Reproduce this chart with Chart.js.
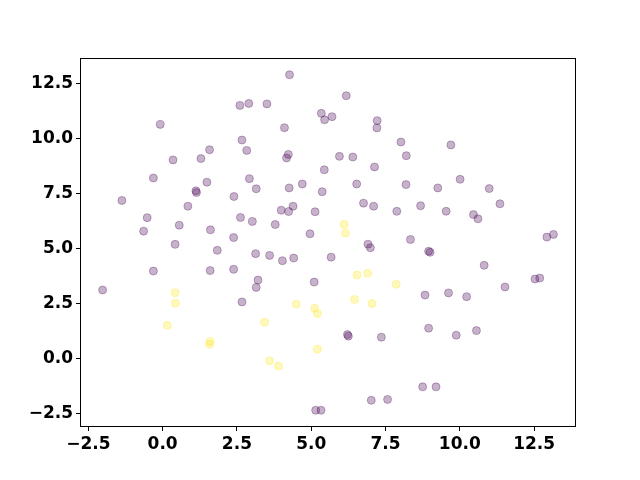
<!DOCTYPE html>
<html>
<head>
<meta charset="utf-8">
<script src="https://cdn.jsdelivr.net/npm/chart.js"></script>
<style>
  html, body { margin: 0; padding: 0; background: #fff; }
  #chart { display: block; }
</style>
</head>
<body>
<canvas id="chart" width="640" height="480"></canvas>
<script>
// cluster 0 (purple) and cluster 1 (yellow)
const class0X = [2.60, 2.90, -0.08, 2.67, 2.83, 1.58, 0.35, 1.29, -0.31, 1.49,
    2.92, 1.12, 1.14, 2.40, -1.37, 0.85, -0.52, 2.62, 0.56, -0.64,
    1.61, 2.39, 3.02, 0.42, 1.84, 4.27, 3.51, 6.18, 5.34, 5.45,
    5.70, 7.22, 7.21, 4.10, 8.02, 8.20, 4.23, 4.17, 5.95, 6.40,
    7.13, 5.44, 3.15, 4.26, 4.70, 6.53, 8.19, 5.37, 4.39, 3.99,
    4.24, 6.76, 7.10, 7.88, 5.13, 3.79, 4.96, 6.91, 6.99, 8.34,
    9.70, 10.01, 9.26, 10.99, 8.68, 9.54, 11.35, 10.46, 10.61, 12.93,
    13.15, 8.95, 9.00, -0.31, 1.60, 2.39, -2.02, 2.67, 3.13, 3.60,
    4.03, 4.41, 5.67, 3.21, 3.15, 5.10, 6.22, 6.25, 7.36, 7.02,
    7.57, 5.15, 5.33, 10.82, 8.83, 9.62, 10.23, 11.52, 12.53, 12.69,
    8.95, 9.88, 10.56, 8.75, 9.20];
const class0Y = [11.49, 11.58, 10.63, 9.92, 9.45, 9.48, 9.02, 9.08, 8.20, 8.01,
    8.17, 7.62, 7.54, 7.36, 7.18, 6.92, 6.40, 6.41, 6.06, 5.79,
    5.85, 5.50, 6.23, 5.19, 4.92, 12.88, 11.56, 11.93, 11.13, 10.84,
    10.98, 10.80, 10.47, 10.48, 9.83, 9.21, 9.27, 9.11, 9.18, 9.15,
    8.70, 8.57, 7.71, 7.75, 7.93, 7.93, 7.90, 7.58, 6.92, 6.74,
    6.68, 7.06, 6.92, 6.69, 6.67, 6.09, 5.67, 5.20, 5.04, 5.41,
    9.70, 8.14, 7.75, 7.72, 6.94, 6.69, 7.03, 6.54, 6.35, 5.52,
    5.64, 4.88, 4.83, 3.98, 4.00, 4.06, 3.12, 2.58, 4.77, 4.69,
    4.45, 4.57, 4.61, 3.57, 3.24, 3.48, 1.10, 1.03, 0.98, -1.88,
    -1.84, -2.33, -2.33, 4.24, 2.89, 2.99, 2.82, 3.26, 3.62, 3.66,
    1.39, 1.07, 1.28, -1.27, -1.27];

const class1X = [0.42, 0.43, 0.16, 1.60, 1.58, 3.43, 3.60, 3.90, 4.50, 5.11,
    5.21, 5.21, 6.11, 6.15, 6.46, 6.54, 6.90, 7.05, 7.86];
const class1Y = [3.00, 2.52, 1.52, 0.79, 0.66, 1.66, -0.09, -0.33, 2.47, 2.29,
    2.05, 0.44, 6.09, 5.70, 2.69, 3.80, 3.88, 2.51, 3.38];

const xTicks = [-2.5, 0, 2.5, 5, 7.5, 10, 12.5];
const yTicks = [-2.5, 0, 2.5, 5, 7.5, 10, 12.5];

function toPoints(xs, ys) {
    return xs.map((x, i) => ({ x: x, y: ys[i] }));
}

function fmtTick(v) {
    return v.toFixed(1).replace("-", "\u2212");
}

// matplotlib-style box around the plot area
const frame = {
    id: "frame",
    afterDraw(chart) {
        const a = chart.chartArea;
        const ctx = chart.ctx;
        ctx.save();
        ctx.strokeStyle = "#000";
        ctx.lineWidth = 1;
        ctx.strokeRect(Math.round(a.left) + 0.5, Math.round(a.top) + 0.5,
            Math.round(a.right - a.left) - 1, Math.round(a.bottom - a.top) - 1);
        ctx.restore();
    }
};

const tickFont = { family: "DejaVu Sans", size: 17, weight: "bold" };

function axis(min, max, ticks, fit) {
    return {
        type: "linear",
        min: min,
        max: max,
        afterBuildTicks: s => { s.ticks = ticks.map(v => ({ value: v })); },
        afterFit: fit,
        border: { display: false },
        grid: {
            drawOnChartArea: false,
            drawTicks: true,
            tickLength: 4,
            color: "#000",
            lineWidth: 1
        },
        ticks: {
            color: "#000",
            font: tickFont,
            padding: 3,
            autoSkip: false,
            maxRotation: 0,
            callback: v => fmtTick(v)
        }
    };
}

new Chart(document.getElementById("chart"), {
    type: "scatter",
    data: {
        datasets: [
            {
                data: toPoints(class0X, class0Y),
                backgroundColor: "rgba(68, 1, 84, 0.3)",
                borderColor: "rgba(68, 1, 84, 0.3)",
                borderWidth: 1,
                pointRadius: 4,
                pointHoverRadius: 4
            },
            {
                data: toPoints(class1X, class1Y),
                backgroundColor: "rgba(253, 231, 37, 0.3)",
                borderColor: "rgba(253, 231, 37, 0.3)",
                borderWidth: 1,
                pointRadius: 4,
                pointHoverRadius: 4
            }
        ]
    },
    options: {
        responsive: false,
        animation: false,
        devicePixelRatio: 1,
        layout: { padding: { top: 58, right: 64, left: 0, bottom: 0 } },
        plugins: {
            legend: { display: false },
            tooltip: { enabled: false }
        },
        scales: {
            x: axis(-2.78, 13.91, xTicks, s => { s.height = 53; }),
            y: axis(-3.09, 13.64, yTicks, s => { s.width = 80; })
        }
    },
    plugins: [frame]
});
</script>
</body>
</html>
